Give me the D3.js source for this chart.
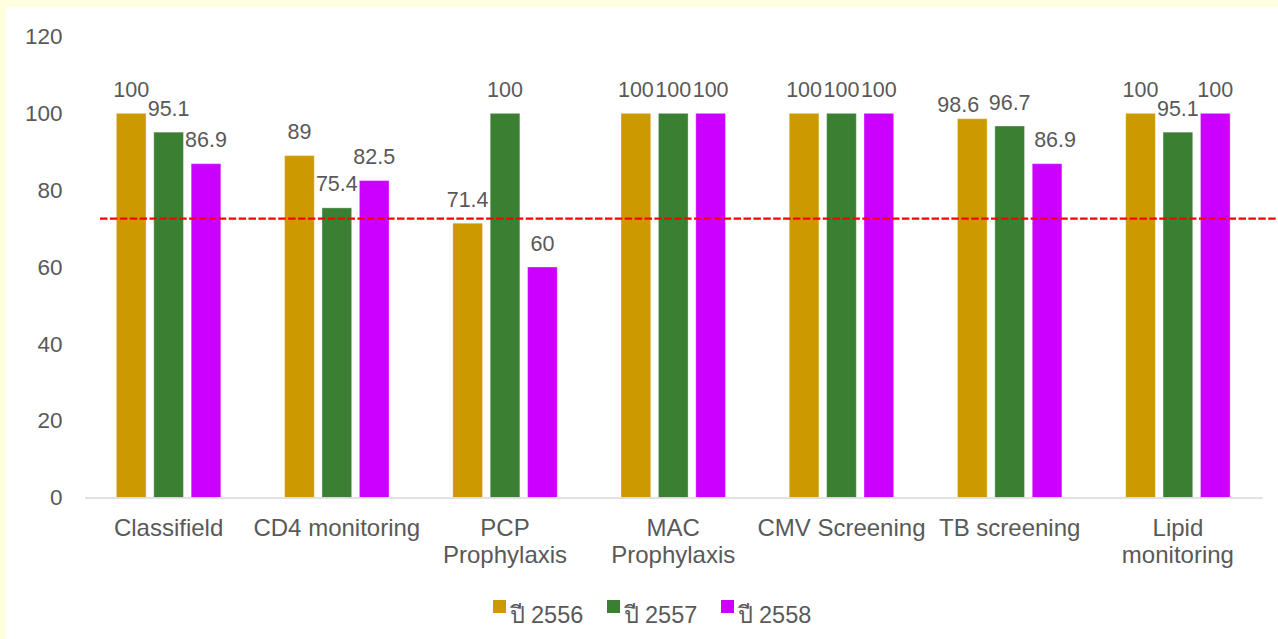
<!DOCTYPE html>
<html>
<head>
<meta charset="utf-8">
<script src="https://cdn.jsdelivr.net/npm/d3@7"></script>
<style>
  html, body { margin: 0; padding: 0; background: #FFFFE0; }
  svg { display: block; }
  text { font-family: "Liberation Sans", Arial, "Noto Sans", sans-serif; fill: #595959; }
</style>
</head>
<body>
<svg id="chart" width="1278" height="639"></svg>
<script>
// Categories (line breaks mark where the axis labels wrap)
const categories = ["Classifield", "CD4 monitoring", "PCP\nProphylaxis", "MAC\nProphylaxis",
                    "CMV Screening", "TB screening", "Lipid\nmonitoring"];
const seriesNames = ["ปี 2556", "ปี 2557", "ปี 2558"];
const values2556 = [100, 89, 71.4, 100, 100, 98.6, 100];
const values2557 = [95.1, 75.4, 100, 100, 100, 96.7, 95.1];
const values2558 = [86.9, 82.5, 60, 100, 100, 86.9, 100];
const yTicks = [0, 20, 40, 60, 80, 100, 120];
const targetValue = 72.6;

const seriesValues = [values2556, values2557, values2558];
const colors = ["#CC9900", "#3B7F33", "#CC00FF"];

// small nudges for data labels that would otherwise collide
const labelNudge = { "5-0": [-14, 10], "5-2": [8, 0] };

const svg = d3.select("#chart");
const W = 1278, H = 639;

// white chart area inside the pale frame
svg.append("rect").attr("x", 6).attr("y", 7).attr("width", W - 6).attr("height", H - 7).attr("fill", "#fff");

const plot = { left: 84.5, right: 1262, top: 36.5, bottom: 497.5 };

const x0 = d3.scaleBand().domain(categories).range([plot.left, plot.right]).padding(0);
const groupFrac = 0.621;
const x1 = d3.scaleBand().domain(d3.range(3))
  .range([0, x0.bandwidth() * groupFrac]).paddingInner(0.206).paddingOuter(0);
const groupOffset = x0.bandwidth() * (1 - groupFrac) / 2;
const y = d3.scaleLinear().domain([0, 120]).range([plot.bottom, plot.top]);

// y axis labels
const yAxis = svg.append("g").attr("transform", `translate(${plot.left},0)`)
  .call(d3.axisLeft(y).tickValues(yTicks).tickSize(0).tickPadding(22));
yAxis.select(".domain").remove();
yAxis.selectAll("text").style("font-size", "22.5px").attr("fill", "#595959")
  .attr("font-family", null);

// bars
const rows = [];
categories.forEach((c, ci) => {
  seriesValues.forEach((vals, si) => rows.push({ c, ci, si, v: vals[ci] }));
});

svg.append("g").selectAll("rect").data(rows).join("rect")
  .attr("x", d => x0(d.c) + groupOffset + x1(d.si))
  .attr("y", d => y(d.v))
  .attr("width", x1.bandwidth())
  .attr("height", d => y(0) - y(d.v))
  .attr("fill", d => colors[d.si])
  .attr("stroke", "#fff").attr("stroke-opacity", 0.35).attr("stroke-width", 1);

// baseline / x axis
const xAxis = svg.append("g").attr("transform", `translate(0,${plot.bottom})`)
  .call(d3.axisBottom(x0).tickSize(0).tickFormat(""));
xAxis.select(".domain").attr("stroke", "#D9D9D9").attr("stroke-width", 1.4);

// category labels (wrapped)
const catG = svg.append("g");
categories.forEach(c => {
  const lines = c.split("\n");
  const t = catG.append("text")
    .attr("x", x0(c) + x0.bandwidth() / 2)
    .attr("y", 535.5)
    .attr("text-anchor", "middle")
    .style("font-size", "24px");
  lines.forEach((ln, i) => {
    t.append("tspan").attr("x", x0(c) + x0.bandwidth() / 2)
      .attr("dy", i === 0 ? 0 : 27).text(ln);
  });
});

// data labels
svg.append("g").selectAll("text").data(rows).join("text")
  .attr("x", d => x0(d.c) + groupOffset + x1(d.si) + x1.bandwidth() / 2 + (labelNudge[d.ci + "-" + d.si] || [0, 0])[0])
  .attr("y", d => y(d.v) - 16.5 + (labelNudge[d.ci + "-" + d.si] || [0, 0])[1])
  .attr("text-anchor", "middle")
  .style("font-size", "21.5px")
  .text(d => d.v);

// target line
svg.append("line")
  .attr("x1", 100).attr("x2", W)
  .attr("y1", y(targetValue)).attr("y2", y(targetValue))
  .attr("stroke", "#FF0000").attr("stroke-width", 2.4)
  .attr("stroke-dasharray", "7.5 2.4");

// legend
const legend = svg.append("g");
const legendX = [493, 607, 721];
seriesNames.forEach((name, i) => {
  legend.append("rect").attr("x", legendX[i]).attr("y", 600)
    .attr("width", 13).attr("height", 13).attr("fill", colors[i]);
  legend.append("text").attr("x", legendX[i] + 16.5).attr("y", 622.5)
    .style("font-size", "23.5px").text(name);
});
</script>
</body>
</html>
